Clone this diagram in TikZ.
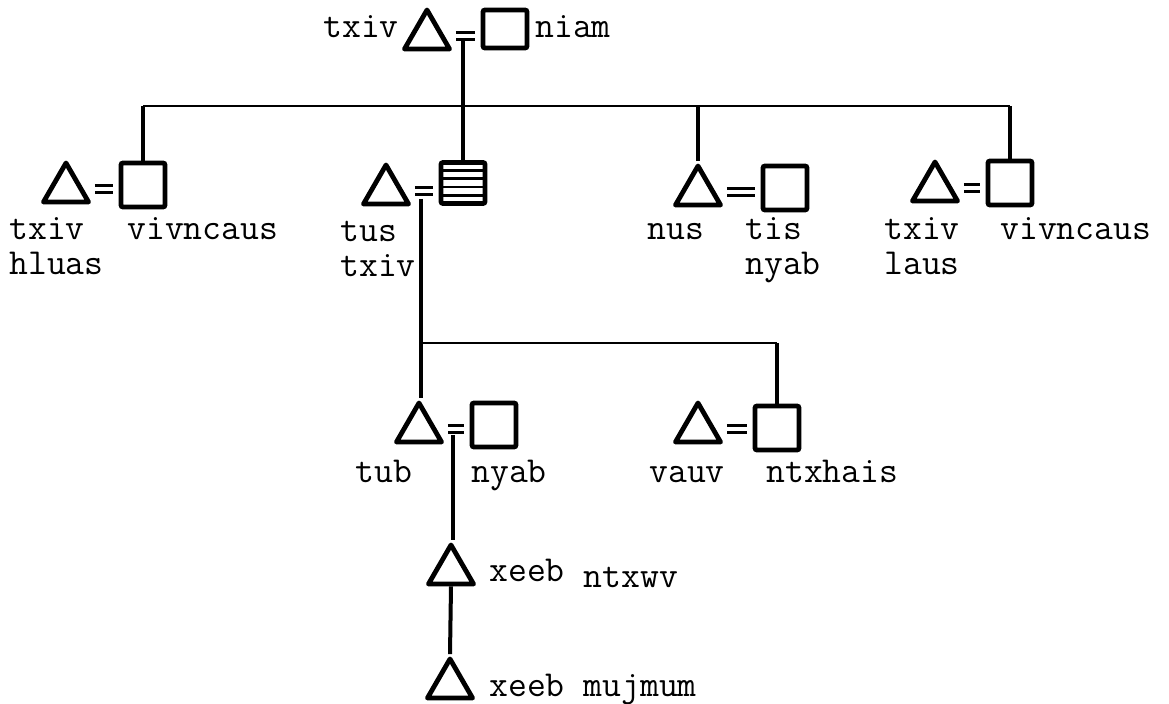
\documentclass[tikz,border=0pt]{standalone}
\usepackage{fontspec}
\usetikzlibrary{shapes.geometric,calc}
\tikzset{
  male/.style={draw, regular polygon, regular polygon sides=3, minimum size=26pt,
    inner sep=0pt, line width=2.4pt, line join=round},
  female/.style={draw, rectangle, minimum width=22pt, minimum height=22pt,
    inner sep=0pt, line width=2.4pt, rounded corners=1pt},
  striped/.style={path picture={
    \foreach \k in {0.2,0.4,0.6,0.8}
      \draw[line width=1.4pt] ($(path picture bounding box.north west)!\k!(path picture bounding box.south west)$)
        -- ($(path picture bounding box.north east)!\k!(path picture bounding box.south east)$);}},
  wed/.style={line width=1.4pt, double distance=2pt, shorten <=5.5pt, shorten >=3pt},
  kin/.style={line width=2pt},
  sibs/.style={line width=1.1pt},
  lbl/.style={anchor=base west, inner sep=0pt, font=\ttfamily\fontsize{18.3}{17.5}\selectfont},
}
\begin{document}
\begin{tikzpicture}[x=0.5pt,y=-0.5pt]
\path[use as bounding box, fill=white] (0,0) rectangle (1169,704);

\node[male] (txiv0) at (427,36) {};
\node[female, minimum height=19pt] (niam0) at (505,29) {};
\node[lbl] at (323,38) {txiv};
\node[lbl] at (535,38) {niam};

\node[male] (txiv1) at (66,189) {};
\node[female] (poj1) at (143,185) {};
\node[male] (tus) at (386,191) {};
\node[female, striped, minimum height=20.5pt] (tusniam) at (463,183) {};
\node[male] (nus) at (698,192) {};
\node[female] (tis) at (785,188) {};
\node[male] (txiv2) at (935,188) {};
\node[female] (poj2) at (1010,183) {};

\node[male] (tub) at (419,429) {};
\node[female] (nyab) at (494,425) {};
\node[male] (vauv) at (698,429) {};
\node[female] (ntxhais) at (777,428) {};

\node[male] (ntxwv) at (451,571) {};
\node[male] (mujmum) at (450,685) {};

\draw[wed] (txiv0.east) -- coordinate (u0) (txiv0.east -| niam0.west);
\draw[wed] (txiv1.east) -- (txiv1.east -| poj1.west);
\draw[wed] (tus.east) -- coordinate (u1) (tus.east -| tusniam.west);
\draw[wed] (nus.east) -- (nus.east -| tis.west);
\draw[wed] (txiv2.east) -- (txiv2.east -| poj2.west);
\draw[wed] (tub.east) -- coordinate (u2) (tub.east -| nyab.west);
\draw[wed] (vauv.east) -- (vauv.east -| ntxhais.west);

\coordinate (bar1) at (0,106);
\coordinate (bar2) at (0,343);
\draw[kin, shorten <=2.5pt] (u0) -- (u0 |- tusniam.north);
\draw[sibs] (poj1.north |- bar1) -- (poj2.north |- bar1);
\draw[kin] (poj1.north) -- (poj1.north |- bar1);
\draw[kin] (nus.north) -- (nus.north |- bar1);
\draw[kin] (poj2.north) -- (poj2.north |- bar1);

\draw[kin, shorten <=4pt] (u1) -- (u1 |- tub.north);
\draw[sibs] (u1 |- bar2) -- (ntxhais.north |- bar2);
\draw[kin] (ntxhais.north |- bar2) -- (ntxhais.north);

\draw[kin, shorten <=3pt] (u2) -- (u2 |- ntxwv.north);
\draw[kin] (ntxwv.south) -- (mujmum.north);

\node[lbl] at (9,240) {\begin{tabular}[t]{@{}l@{}}txiv\\hluas\end{tabular}};
\node[lbl] at (127,240) {vivncaus};
\node[lbl] at (340,242) {\begin{tabular}[t]{@{}l@{}}tus\\txiv\end{tabular}};
\node[lbl] at (647,240) {nus};
\node[lbl] at (745,240) {\begin{tabular}[t]{@{}l@{}}tis\\nyab\end{tabular}};
\node[lbl] at (884,240) {\begin{tabular}[t]{@{}l@{}}txiv\\laus\end{tabular}};
\node[lbl] at (1000,240) {vivncaus};

\node[lbl] at (355,483) {tub};
\node[lbl] at (471,483) {nyab};
\node[lbl] at (649,483) {vauv};
\node[lbl] at (766,483) {ntxhais};

\node[lbl] at (489,582) {xeeb \raisebox{-3pt}{ntxwv}};
\node[lbl] at (489,697) {xeeb mujmum};
\end{tikzpicture}
\end{document}
